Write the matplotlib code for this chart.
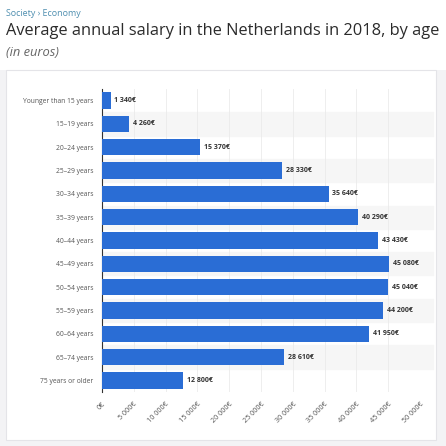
import matplotlib.pyplot as plt
from matplotlib.patches import Rectangle

# ── Data ────────────────────────────────────────────────
ages = [
    "Younger than 15 years", "15–19 years", "20–24 years", "25–29 years",
    "30–34 years", "35–39 years", "40–44 years", "45–49 years",
    "50–54 years", "55–59 years", "60–64 years", "65–74 years",
    "75 years or older",
]
salaries = [1340, 4260, 15370, 28330, 35640, 40290, 43430,
            45080, 45040, 44200, 41950, 28610, 12800]
xticks = list(range(0, 50001, 5000))

BAR = "#2a6dd5"

def fmt(v):
    return f"{v:,}".replace(",", " ") + "€"

plt.rcParams['font.family'] = ['Open Sans', 'DejaVu Sans']

fig = plt.figure(figsize=(4.46, 4.46), dpi=100)
fig.patch.set_facecolor("#f3f3f5")
W = H = 446.0

# white page header + card
fig.patches.append(Rectangle((0, 1 - 70 / H), 1, 70 / H, transform=fig.transFigure,
                             facecolor="white", edgecolor="none", zorder=-2))
fig.patches.append(Rectangle((6 / W, 1 - 440 / H), 430 / W, 370 / H, transform=fig.transFigure,
                             facecolor="white", edgecolor="#e4e4e8", lw=0.8, zorder=-2))

fig.text(6 / W, 1 - 13 / H, "Society › Economy", fontsize=6.4, color="#4f8fb0", va="center")
fig.text(6 / W, 1 - 31 / H, "Average annual salary in the Netherlands in 2018, by age",
         fontsize=11.8, color="#2b2b2b", va="center")
fig.text(6 / W, 1 - 53 / H, "(in euros)", fontsize=9.3, color="#666666", va="center",
         style="italic")

# ── Chart ──────────────────────────────────────────────
ax = fig.add_axes([102 / W, 1 - 392 / H, 318 / W, 303 / H])
ax.set_zorder(1)
ax.set_facecolor("none")
y = list(range(len(ages)))
ax.barh(y, salaries, height=0.7, color=BAR, zorder=3)

for i in y:
    if i % 2 == 1:
        ax.axhspan(i - 0.5, i + 0.5, xmin=0, xmax=1.04, color="#f6f6f6", zorder=0,
                   clip_on=False)

for i, v in zip(y, salaries):
    ax.text(v + 600, i, fmt(v), fontsize=5.0, fontweight="bold", color="#333333",
            va="center", ha="left", zorder=4)

ax.set_ylim(len(ages) - 0.5, -0.5)
ax.set_xlim(0, 50000)
ax.set_yticks(y)
ax.set_yticklabels(ages, fontsize=4.9, color="#555555")
ax.set_xticks(xticks)
ax.set_xticklabels([fmt(t) for t in xticks], fontsize=5.2, color="#555555",
                   rotation=45, ha="right", rotation_mode="anchor")
ax.tick_params(axis="both", length=0, pad=6)
ax.xaxis.grid(True, color="#ebebeb", lw=0.6, zorder=1)
for s in ["top", "right", "bottom"]:
    ax.spines[s].set_visible(False)
ax.spines["left"].set_color("#333333")
ax.spines["left"].set_linewidth(0.8)

fig.savefig("out.png", dpi=100)
